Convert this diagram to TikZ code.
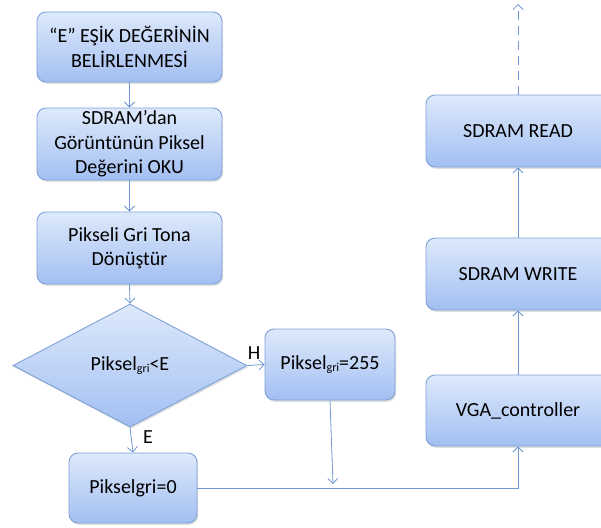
\documentclass[tikz,border=0pt]{standalone}
\usepackage{fontspec}
\setmainfont{Carlito}
\usetikzlibrary{shapes.geometric,arrows.meta,shadows}
\definecolor{boxtop}{HTML}{DEE9FB}
\definecolor{boxbot}{HTML}{A2BFF2}
\definecolor{boxline}{HTML}{7EA2D8}
\definecolor{conn}{HTML}{6E97D3}
\tikzset{
  base/.style={draw=boxline, line width=0.9pt, top color=boxtop, bottom color=boxbot,
    drop shadow={opacity=0.25, shadow xshift=1.2pt, shadow yshift=-1.8pt},
    inner sep=0pt, align=center, font=\fontsize{20}{24.5}\selectfont},
  stepbox/.style={base, rectangle, rounded corners=9pt},
  decision/.style={base, diamond, aspect=1.9},
  conn/.style={draw=conn, line width=0.8pt, -{Straight Barb[length=5pt,width=10pt]}},
  lbl/.style={font=\fontsize{20}{24}\selectfont, inner sep=0pt}
}
\newcommand{\gri}{\raisebox{-0.15ex}{\fontsize{12}{12}\selectfont gri}}
\begin{document}
\begin{tikzpicture}[x=1pt,y=-1pt]
\useasboundingbox (0,0) rectangle (601,527);
\node[stepbox, minimum width=185, minimum height=70] (b1) at (129.5,47) {“E” EŞİK DEĞERİNİN\\BELİRLENMESİ};
\node[stepbox, minimum width=185, minimum height=72] (b2) at (129.5,144) {SDRAM’dan\\Görüntünün Piksel\\Değerini OKU};
\node[stepbox, minimum width=185, minimum height=72] (b3) at (129.5,248) {Pikseli Gri Tona\\Dönüştür};
\node[decision, minimum width=234, minimum height=123] (d) at (130,365.5) {Piksel\gri<E};
\node[stepbox, minimum width=130, minimum height=71] (b255) at (330,364.5) {Piksel\gri=255};
\node[stepbox, minimum width=128, minimum height=70] (b0) at (133,488) {Pikselgri=0};
\node[stepbox, minimum width=184, minimum height=71] (vga) at (518,410.5) {VGA\_controller};
\node[stepbox, minimum width=184, minimum height=72] (wr) at (518,274) {SDRAM WRITE};
\node[stepbox, minimum width=184, minimum height=72] (rd) at (518,131) {SDRAM READ};
\coordinate (top) at (518,4);
\coordinate (join) at (333,484);
\coordinate (corner) at (518,488);
\node[lbl] (H) at (254,353) {H};
\node[lbl] (E) at (148,437) {E};
\draw[conn] (b1.south) -- (b2.north);
\draw[conn] (b2.south) -- (b3.north);
\draw[conn] (b3.south) -- (d.north);
\draw[conn] (d.east) -- (b255.west);
\draw[conn] (d.south) -- (b0.north);
\draw[conn] (b255.south) -- (join);
\draw[conn] (b0.east) -- (corner) -- (vga.south);
\draw[conn] (vga.north) -- (wr.south);
\draw[conn] (wr.north) -- (rd.south);
\draw[conn, dash pattern=on 9pt off 6pt] (rd.north) -- (top);
\end{tikzpicture}
\end{document}
